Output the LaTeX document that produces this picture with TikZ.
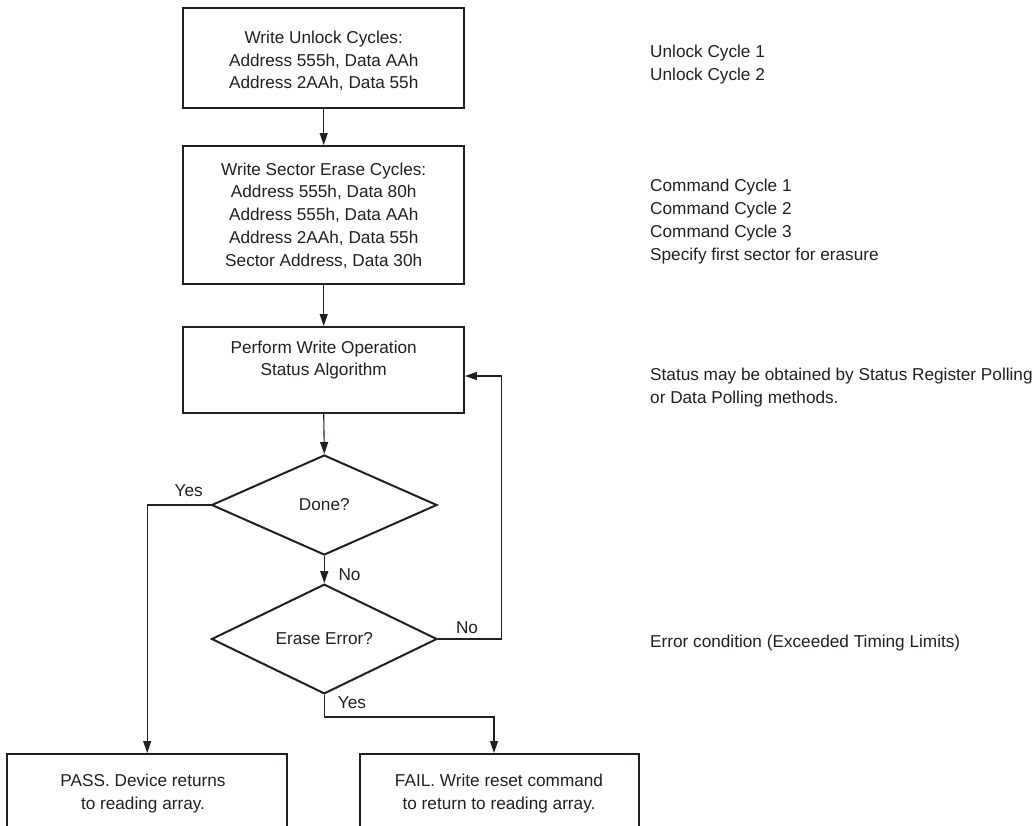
\documentclass[tikz,border=0pt]{standalone}
\usepackage{fontspec}
\setmainfont{Liberation Sans}
\usetikzlibrary{shapes.geometric,arrows.meta}
\definecolor{ink}{HTML}{231F20}
\begin{document}
\begin{tikzpicture}[x=1pt,y=-1pt,
  every node/.style={text=ink, font=\fontsize{17.2}{22.7}\selectfont},
  box/.style={draw=ink, line width=2pt, rectangle, inner sep=0pt, align=center},
  dia/.style={draw=ink, line width=2pt, diamond, inner sep=0pt, minimum width=225.5pt, minimum height=100pt},
  txt/.style={align=center, inner sep=0pt},
  note/.style={align=left, anchor=west, inner sep=0pt},
  lbl/.style={inner sep=0pt},
  arr/.style={draw=ink, line width=1.1pt, -{Triangle[length=12pt,width=8pt]}}]
\useasboundingbox (0,0) rectangle (1035,825);
\clip (0,0) rectangle (1035,825);
% boxes
\node[box, minimum width=280.5pt, minimum height=99.4pt] (b1) at (323.7,58) {};
\node[txt] (t1) at (323.7,61) {Write Unlock Cycles:\\Address 555h, Data AAh\\Address 2AAh, Data 55h};
\node[box, minimum width=280.5pt, minimum height=138pt] (b2) at (323.7,215) {};
\node[txt] (t2) at (323.7,215.5) {Write Sector Erase Cycles:\\Address 555h, Data 80h\\Address 555h, Data AAh\\ Address 2AAh, Data 55h\\Sector Address, Data 30h};
\node[box, minimum width=280.5pt, minimum height=86pt] (b3) at (323.7,370) {};
\node[txt] (t3) at (323.7,360) {Perform Write Operation\\Status Algorithm};
\node[dia] (done) at (324.3,505) {Done?};
\node[dia] (erase) at (324.3,639) {Erase Error?};
\node[box, minimum width=279.7pt, minimum height=96pt] (pass) at (147.2,802) {};
\node[txt] (tp) at (143,793.5) {PASS. Device returns\\to reading array.};
\node[box, minimum width=279pt, minimum height=96pt] (fail) at (499.5,802) {};
\node[txt] (tf) at (499,793.5) {FAIL. Write reset command\\to return to reading array.};
% labels
\node[lbl] (yes1) at (188.7,491) {Yes};
\node[lbl] (no1) at (349.5,575) {No};
\node[lbl] (no2) at (467,628) {No};
\node[lbl] (yes2) at (352,703) {Yes};
% notes
\node[note] (n1) at (650,64.5) {Unlock Cycle 1\\Unlock Cycle 2};
\node[note] (n2) at (650,221.5) {Command Cycle 1\\Command Cycle 2\\Command Cycle 3\\Specify first sector for erasure};
\node[note] (n3) at (650,387.5) {Status may be obtained by Status Register Polling\\or Data Polling methods.};
\node[note] (n4) at (650,643.5) {Error condition (Exceeded Timing Limits)};
% connectors
\draw[arr] (b1.south) -- (b2.north);
\draw[arr] (b2.south) -- (b3.north);
\draw[arr] (b3.south) -- (done.north);
\draw[arr] (done.south) -- (erase.north);
\coordinate (fb) at (501.7,376);
\draw[arr] (erase.east) -| (fb) -- (b3.east |- fb);
\draw[arr] (done.west) -| (pass.north);
\coordinate (fy) at (494,717);
\draw[arr] (erase.south) |- (fy) -- (fy |- fail.north);
\end{tikzpicture}
\end{document}
